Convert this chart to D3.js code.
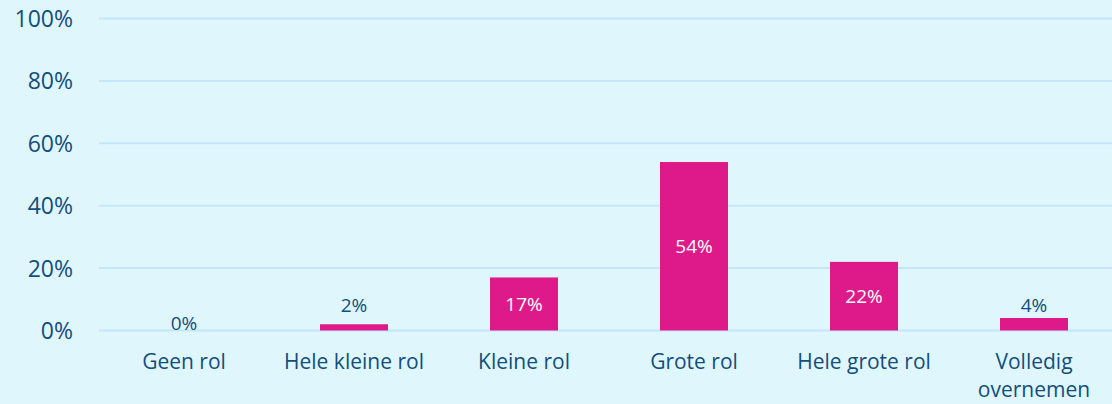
<!DOCTYPE html>
<html><head><meta charset="utf-8">
<script src="https://cdn.jsdelivr.net/npm/d3@7"></script>
<style>
html,body{margin:0;padding:0;background:#e0f6fd;}
svg{display:block;font-family:"Open Sans","Noto Sans",sans-serif;}
</style></head><body>
<svg id="chart" width="1112" height="404"></svg>
<script>
const categories = ["Geen rol", "Hele kleine rol", "Kleine rol", "Grote rol", "Hele grote rol", "Volledig overnemen"];
const values = [0, 2, 17, 54, 22, 4];
const yTicks = [0, 20, 40, 60, 80, 100];

const svg = d3.select("#chart");
svg.append("rect").attr("width",1112).attr("height",404).attr("fill","#e0f6fd");

const x = d3.scaleBand().domain(categories).range([99,1119]).paddingInner(0.6).paddingOuter(0.3);
const y = d3.scaleLinear().domain([0,100]).range([330.5,18.5]);

const textColor = "#124e7b";
const font = "'Open Sans', 'Noto Sans', sans-serif";

// grid
svg.append("g").selectAll("line").data(yTicks).join("line")
  .attr("x1",99).attr("x2",1112)
  .attr("y1",d=>y(d)).attr("y2",d=>y(d))
  .attr("stroke","#c4e6fb").attr("stroke-width",2);

// y labels
const yAxis = d3.axisLeft(y).tickValues(yTicks).tickFormat(d=>d+"%").tickSize(0).tickPadding(0);
const ya = svg.append("g").attr("transform","translate(73,0)").call(yAxis);
ya.select(".domain").remove();
ya.selectAll("text").attr("fill",textColor).style("font-size","23px").style("font-family",font).attr("dy","0.35em");

// bars
svg.append("g").selectAll("rect").data(values).join("rect")
  .attr("x",(d,i)=>x(categories[i]))
  .attr("width",x.bandwidth())
  .attr("y",d=>y(d))
  .attr("height",d=>y(0)-y(d))
  .attr("fill","#de1a8a");

// value labels
svg.append("g").selectAll("text").data(values).join("text")
  .attr("x",(d,i)=>x(categories[i])+x.bandwidth()/2)
  .attr("y",d=> d>=10 ? (y(d)+y(0))/2 : (d>0 ? y(Math.max(d,4))-6 : y(0)-1))
  .attr("dy", d=> d>=10 ? "0.35em" : "0")
  .attr("text-anchor","middle")
  .attr("fill",d=> d>=10 ? "#ffffff" : textColor)
  .style("font-size","19px")
  .style("font-family",font)
  .text(d=>d+"%");

// x labels
const xAxis = d3.axisBottom(x).tickSize(0).tickPadding(0);
const xa = svg.append("g").call(xAxis);
xa.select(".domain").remove();
xa.selectAll("text").remove();
xa.selectAll(".tick").each(function(d){
  const g = d3.select(this);
  const words = d==="Volledig overnemen" ? ["Volledig","overnemen"] : [d];
  words.forEach((w,j)=>{
    g.append("text").attr("y",362+j*28).attr("dy","0.35em")
     .attr("text-anchor","middle").attr("fill",textColor)
     .style("font-size","21px").style("font-family",font).text(w);
  });
});
</script></body></html>
